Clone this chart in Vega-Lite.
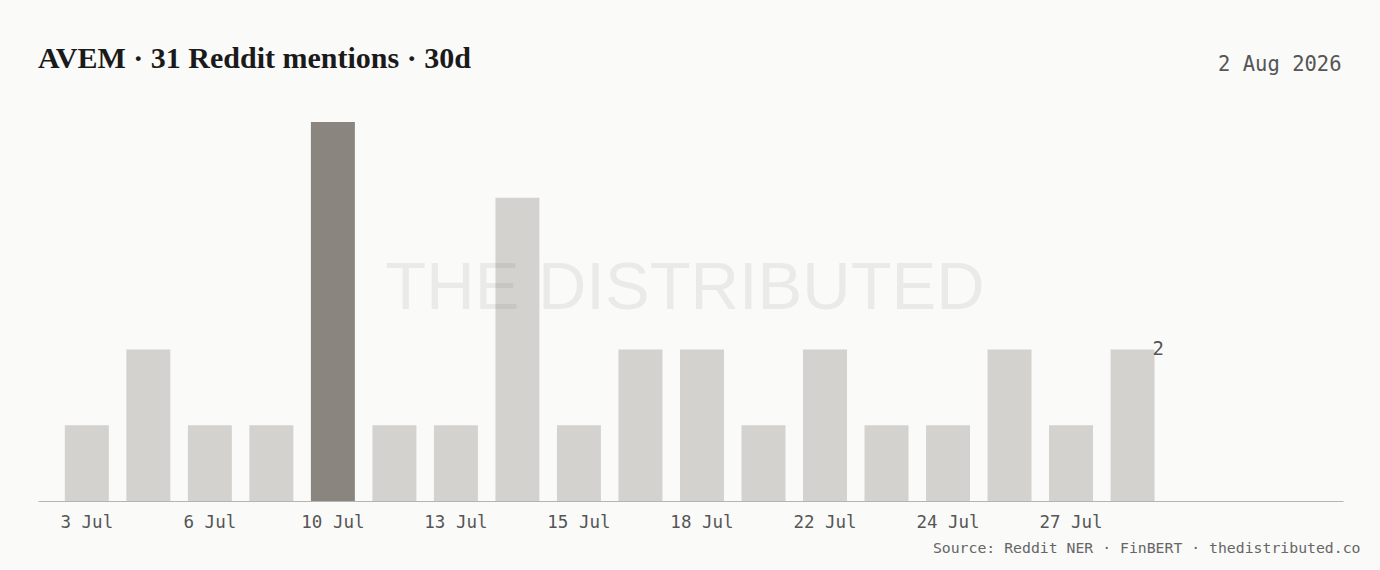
{
  "$schema": "https://vega.github.io/schema/vega-lite/v6.json",
  "width": 1305,
  "height": 379,
  "autosize": {"type": "none"},
  "padding": {"left": 38, "top": 122, "right": 37, "bottom": 69},
  "background": "#fafaf9",
  "config": {"view": {"stroke": null}, "font": "DejaVu Sans Mono"},
  "title": {
    "text": "AVEM · 31 Reddit mentions · 30d",
    "anchor": "start",
    "font": "Liberation Serif",
    "fontSize": 30,
    "fontWeight": "bold",
    "color": "#1a1a1a",
    "baseline": "alphabetic",
    "offset": 0,
    "dy": 44
  },
  "data": {
    "values": [
      {"day": "3 Jul", "count": 1},
      {"day": "5 Jul", "count": 2},
      {"day": "6 Jul", "count": 1},
      {"day": "8 Jul", "count": 1},
      {"day": "10 Jul", "count": 5},
      {"day": "12 Jul", "count": 1},
      {"day": "13 Jul", "count": 1},
      {"day": "14 Jul", "count": 4},
      {"day": "15 Jul", "count": 1},
      {"day": "17 Jul", "count": 2},
      {"day": "18 Jul", "count": 2},
      {"day": "20 Jul", "count": 1},
      {"day": "22 Jul", "count": 2},
      {"day": "23 Jul", "count": 1},
      {"day": "24 Jul", "count": 1},
      {"day": "26 Jul", "count": 2},
      {"day": "27 Jul", "count": 1},
      {"day": "30 Jul", "count": 2}
    ]
  },
  "resolve": {"axis": {"x": "independent"}},
  "layer": [
    {
      "mark": {"type": "bar"},
      "encoding": {
        "x": {
          "field": "day",
          "type": "ordinal",
          "sort": null,
          "scale": {
            "domain": ["3 Jul", "5 Jul", "6 Jul", "8 Jul", "10 Jul", "12 Jul", "13 Jul", "14 Jul", "15 Jul", "17 Jul", "18 Jul", "20 Jul", "22 Jul", "23 Jul", "24 Jul", "26 Jul", "27 Jul", "30 Jul", "31 Jul", "1 Aug"],
            "paddingInner": 0.285,
            "paddingOuter": 0.75,
            "align": 0.291,
            "round": false
          },
          "axis": {
            "values": ["3 Jul", "6 Jul", "10 Jul", "13 Jul", "15 Jul", "18 Jul", "22 Jul", "24 Jul", "27 Jul"],
            "labelAngle": 0,
            "ticks": false,
            "labelPadding": 12,
            "labelFont": "DejaVu Sans Mono",
            "labelFontSize": 17.5,
            "labelColor": "#555555",
            "domainColor": "#b4b4b1",
            "domainWidth": 1,
            "title": "Source: Reddit NER · FinBERT · thedistributed.co",
            "titleFont": "DejaVu Sans Mono",
            "titleFontSize": 14.8,
            "titleFontWeight": "normal",
            "titleColor": "#666666",
            "titleAlign": "right",
            "titleAnchor": "end",
            "titleBaseline": "alphabetic",
            "titleX": 1322,
            "titleY": 51.5
          }
        },
        "y": {
          "field": "count",
          "type": "quantitative",
          "scale": {"domain": [0, 5], "nice": false},
          "axis": null
        },
        "color": {
          "condition": {"test": "datum.count === 5", "value": "#8a857e"},
          "value": "#d3d2ce"
        }
      }
    },
    {
      "transform": [{"filter": "datum.day === '30 Jul'"}],
      "mark": {"type": "text", "align": "left", "baseline": "middle", "dx": -2, "fontSize": 19, "font": "DejaVu Sans Mono", "color": "#555555"},
      "encoding": {
        "x": {"field": "day", "type": "ordinal", "sort": null, "bandPosition": 1, "axis": null},
        "y": {"field": "count", "type": "quantitative", "axis": null},
        "text": {"field": "count", "type": "quantitative"}
      }
    },
    {
      "data": {"values": [{"mark": "THE DISTRIBUTED"}]},
      "mark": {"type": "text", "align": "center", "baseline": "alphabetic", "dx": 5, "font": "Liberation Sans", "fontSize": 67, "color": "#555555", "opacity": 0.09},
      "encoding": {
        "x": {
          "datum": "18 Jul",
          "type": "ordinal",
          "bandPosition": 0,
          "axis": {
            "orient": "top",
            "labels": false,
            "ticks": false,
            "domain": false,
            "grid": false,
            "title": "2 Aug 2026",
            "titleFont": "DejaVu Sans Mono",
            "titleFontSize": 20.5,
            "titleFontWeight": "normal",
            "titleColor": "#555555",
            "titleAlign": "right",
            "titleAnchor": "end",
            "titleBaseline": "alphabetic",
            "titleX": 1303,
            "titleY": -52
          }
        },
        "y": {"datum": 2.53, "type": "quantitative", "axis": null},
        "text": {"field": "mark"}
      }
    }
  ]
}
